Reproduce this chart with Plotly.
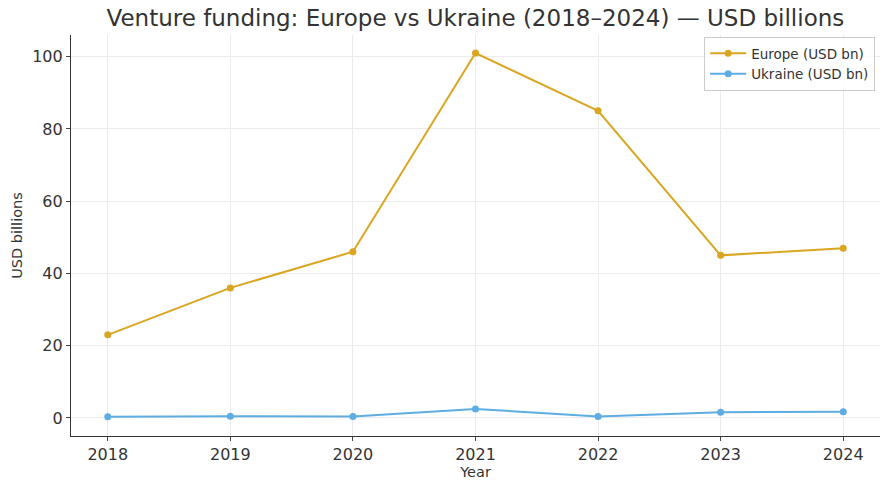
import plotly.graph_objects as go

years = [2018, 2019, 2020, 2021, 2022, 2023, 2024]
europe = [23, 36, 46, 101, 85, 45, 47]
ukraine = [0.3, 0.5, 0.4, 2.5, 0.4, 1.6, 1.7]

fig = go.Figure()
fig.add_trace(go.Scatter(x=years, y=europe, mode="lines+markers", name="Europe (USD bn)",
                         line=dict(color="#DAA520", width=2), marker=dict(size=7, color="#DAA520")))
fig.add_trace(go.Scatter(x=years, y=ukraine, mode="lines+markers", name="Ukraine (USD bn)",
                         line=dict(color="#5DADE2", width=2), marker=dict(size=7, color="#5DADE2")))

fig.update_layout(
    width=882, height=480,
    margin=dict(l=71, r=2, t=35, b=44),
    paper_bgcolor="white", plot_bgcolor="white",
    font=dict(family="DejaVu Sans", color="#333333"),
    title=dict(text="Venture funding: Europe vs Ukraine (2018–2024) — USD billions",
               x=0.539, xanchor="center", y=0.962, yanchor="middle", font=dict(size=23, color="#333333")),
    legend=dict(x=0.994, y=0.995, xanchor="right", yanchor="top", bgcolor="rgba(255,255,255,0.8)",
                bordercolor="#cccccc", borderwidth=1, font=dict(size=13.5), itemwidth=36,
                tracegroupgap=2),
    xaxis=dict(range=[2017.7, 2024.3], tickvals=years, showgrid=True, gridcolor="#ebebeb",
               showline=True, linecolor="#333333", linewidth=1.2, ticks="outside", ticklen=4,
               tickfont=dict(size=16), title=dict(text="Year", font=dict(size=14.5), standoff=2),
               zeroline=False),
    yaxis=dict(range=[-5, 106], tickvals=[0, 20, 40, 60, 80, 100], showgrid=True, gridcolor="#ebebeb",
               showline=True, linecolor="#333333", linewidth=1.2, ticks="outside", ticklen=4,
               tickfont=dict(size=16), title=dict(text="USD billions", font=dict(size=14.5), standoff=6),
               zeroline=False),
)

fig.write_html("out.html")
